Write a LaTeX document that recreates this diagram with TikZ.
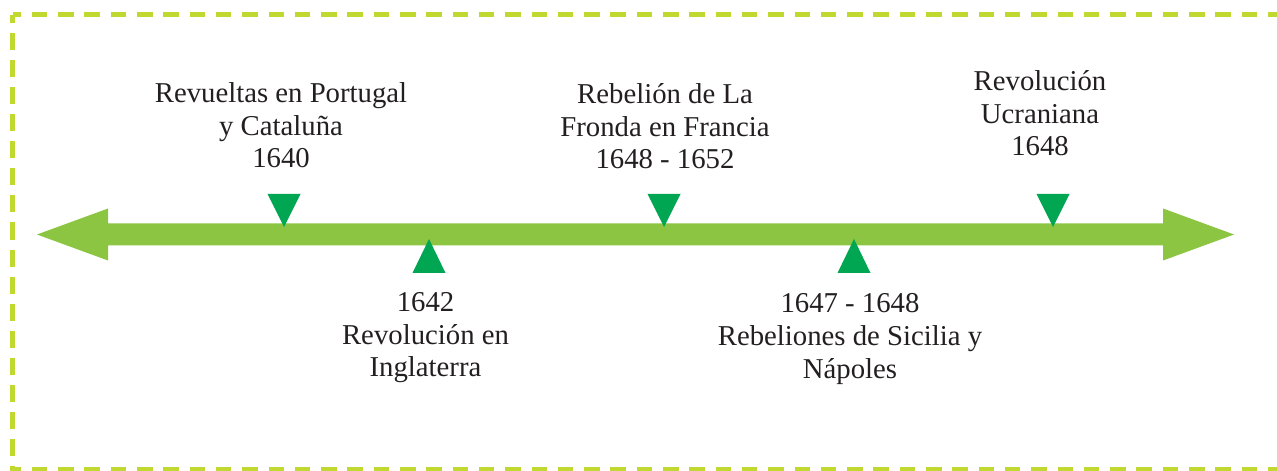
\documentclass[tikz,border=0pt]{standalone}
\usepackage{fontspec}
\setmainfont{Liberation Serif}
\definecolor{bordergreen}{RGB}{192,216,48}
\definecolor{linegreen}{RGB}{139,197,65}
\definecolor{markgreen}{RGB}{0,166,81}
\definecolor{textdark}{RGB}{35,31,32}
\begin{document}
\begin{tikzpicture}[x=0.4pt,y=-0.4pt,
  evlabel/.style={font=\fontsize{11.5}{13}\selectfont, text=textdark, inner sep=0pt, anchor=base},
  hborder/.style={draw=bordergreen, line width=2pt, dash pattern=on 6.2pt off 4.32pt, dash phase=2.8pt},
  vborder/.style={draw=bordergreen, line width=2pt, dash pattern=on 6.8pt off 4pt, dash phase=3.4pt},
  mark/.style={fill=markgreen}]
\useasboundingbox (0,0) rectangle (1277,471);
\begin{scope}
\clip (0,0) rectangle (1277,471);
% dashed frame
\draw[hborder] (12.5,15) -- (1290,15);
\draw[vborder] (12.5,15) -- (12.5,480);
\draw[hborder] (12.5,469) -- (1290,469);
\end{scope}
% timeline double arrow
\fill[linegreen] (37,234.5) -- (108,208.5) -- (108,223.5) -- (1163,223.5) -- (1163,208.5)
  -- (1234,234.5) -- (1163,260.5) -- (1163,245.5) -- (108,245.5) -- (108,260.5) -- cycle;
% markers
\foreach \cx in {284,664,1053}
  \fill[markgreen] (\cx-16.5,194) -- (\cx+16.5,194) -- (\cx,227) -- cycle;
\foreach \cx in {429,854}
  \fill[markgreen] (\cx-16.5,273) -- (\cx+16.5,273) -- (\cx,239) -- cycle;
% labels
\node[evlabel] (t1) at (281,103) {\begin{tabular}[t]{@{}c@{}}Revueltas en Portugal\\ y Cataluña\\ 1640\end{tabular}};
\node[evlabel] (t2) at (665,104) {\begin{tabular}[t]{@{}c@{}}Rebelión de La\\ Fronda en Francia\\ 1648 - 1652\end{tabular}};
\node[evlabel] (t4) at (1040,91) {\begin{tabular}[t]{@{}c@{}}Revolución\\ Ucraniana\\ 1648\end{tabular}};
\node[evlabel] (t3) at (425.5,312) {\begin{tabular}[t]{@{}c@{}}1642\\ Revolución en\\ Inglaterra\end{tabular}};
\node[evlabel] (t5) at (850,313) {\begin{tabular}[t]{@{}c@{}}1647 - 1648\\ Rebeliones de Sicilia y\\ Nápoles\end{tabular}};
\end{tikzpicture}
\end{document}
